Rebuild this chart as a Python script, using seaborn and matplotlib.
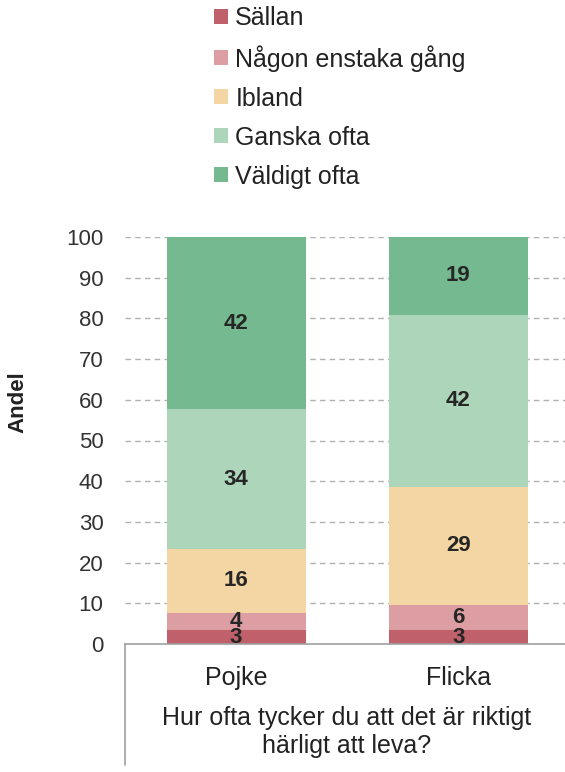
import matplotlib
matplotlib.use("Agg")
import matplotlib.pyplot as plt
import matplotlib.patches as mpatches
from matplotlib.lines import Line2D
import seaborn as sns
import numpy as np
import pandas as pd

categories = ["Pojke", "Flicka"]
responses = ["Sällan", "Någon enstaka gång", "Ibland", "Ganska ofta", "Väldigt ofta"]
sallan = [3.4, 3.4]
nagon = [4.3, 6.3]
ibland = [15.6, 28.9]
ganska = [34.4, 42.3]
valdigt = [42.3, 19.1]
colors = ["#c0606b", "#dc9ea3", "#f3d6a4", "#acd5b9", "#74b98f"]
y_ticks = [0, 10, 20, 30, 40, 50, 60, 70, 80, 90, 100]
x_title = "Hur ofta tycker du att det är riktigt\nhärligt att leva?"
y_title = "Andel"

sns.set_theme(style="white")
plt.rcParams['font.family'] = ['Liberation Sans', 'DejaVu Sans']

series = [sallan, nagon, ibland, ganska, valdigt]
data = np.array(series)
cum = np.cumsum(data, axis=0)

fig = plt.figure(figsize=(5.65, 7.72), dpi=100)
ax = fig.add_axes([125/565, 1-644/772, 440/565, (644-237)/772])

# draw from the top layer down so each lower layer overpaints
for i in range(len(series)-1, -1, -1):
    df = pd.DataFrame({"cat": categories, "val": cum[i]})
    sns.barplot(data=df, x="cat", y="val", order=categories, color=colors[i],
                width=0.626, saturation=1, ax=ax, zorder=3, linewidth=0)

# segment labels
for i in range(len(series)):
    for j in range(len(categories)):
        v = data[i, j]
        ax.text(j, cum[i, j] - v/2, f"{round(v):d}", ha="center", va="center",
                fontsize=16, fontweight="bold", color="#262626", zorder=5)

ax.set_xlim(-0.5, 1.48)
ax.set_ylim(0, 100)
ax.set_yticks(y_ticks)
ax.set_yticklabels([str(t) for t in y_ticks], fontsize=16, color="#333333")
ax.tick_params(axis="y", length=0, pad=15.5)
ax.tick_params(axis="x", length=0, pad=16, labelsize=18, labelcolor="#222222")
ax.set_xlabel("")
ax.set_ylabel("")
for y in y_ticks[1:]:
    ax.axhline(y, color="#b0b0b0", linestyle=(0, (4, 3)), linewidth=1.0, zorder=1)
for s in ["top", "right", "left"]:
    ax.spines[s].set_visible(False)
ax.spines["bottom"].set_color("#a0a0a0")
ax.spines["bottom"].set_linewidth(1.2)
ax.spines["bottom"].set_zorder(6)

# vertical separator line below axis
fig.add_artist(Line2D([125/565, 125/565], [1-644/772, 1-765/772],
                      color="#a0a0a0", linewidth=1.2, transform=fig.transFigure))

fig.text(347/565, 1-732/772, x_title, ha="center", va="center", fontsize=18,
         color="#222222", linespacing=1.22)
fig.text(18/565, 1-402/772, y_title, rotation=90, ha="center", va="center",
         fontsize=16, fontweight="bold", color="#222222")

handles = [mpatches.Patch(facecolor=c, edgecolor="none") for c in colors]
leg = fig.legend(handles, responses, loc="upper left",
                 bbox_to_anchor=(204/565, 1+4/772), frameon=False,
                 fontsize=18, handlelength=0.55, handleheight=0.55,
                 handletextpad=0.3, labelspacing=0.6, borderaxespad=0)
for t in leg.get_texts():
    t.set_color("#222222")

fig.savefig("out.png", dpi=100)
